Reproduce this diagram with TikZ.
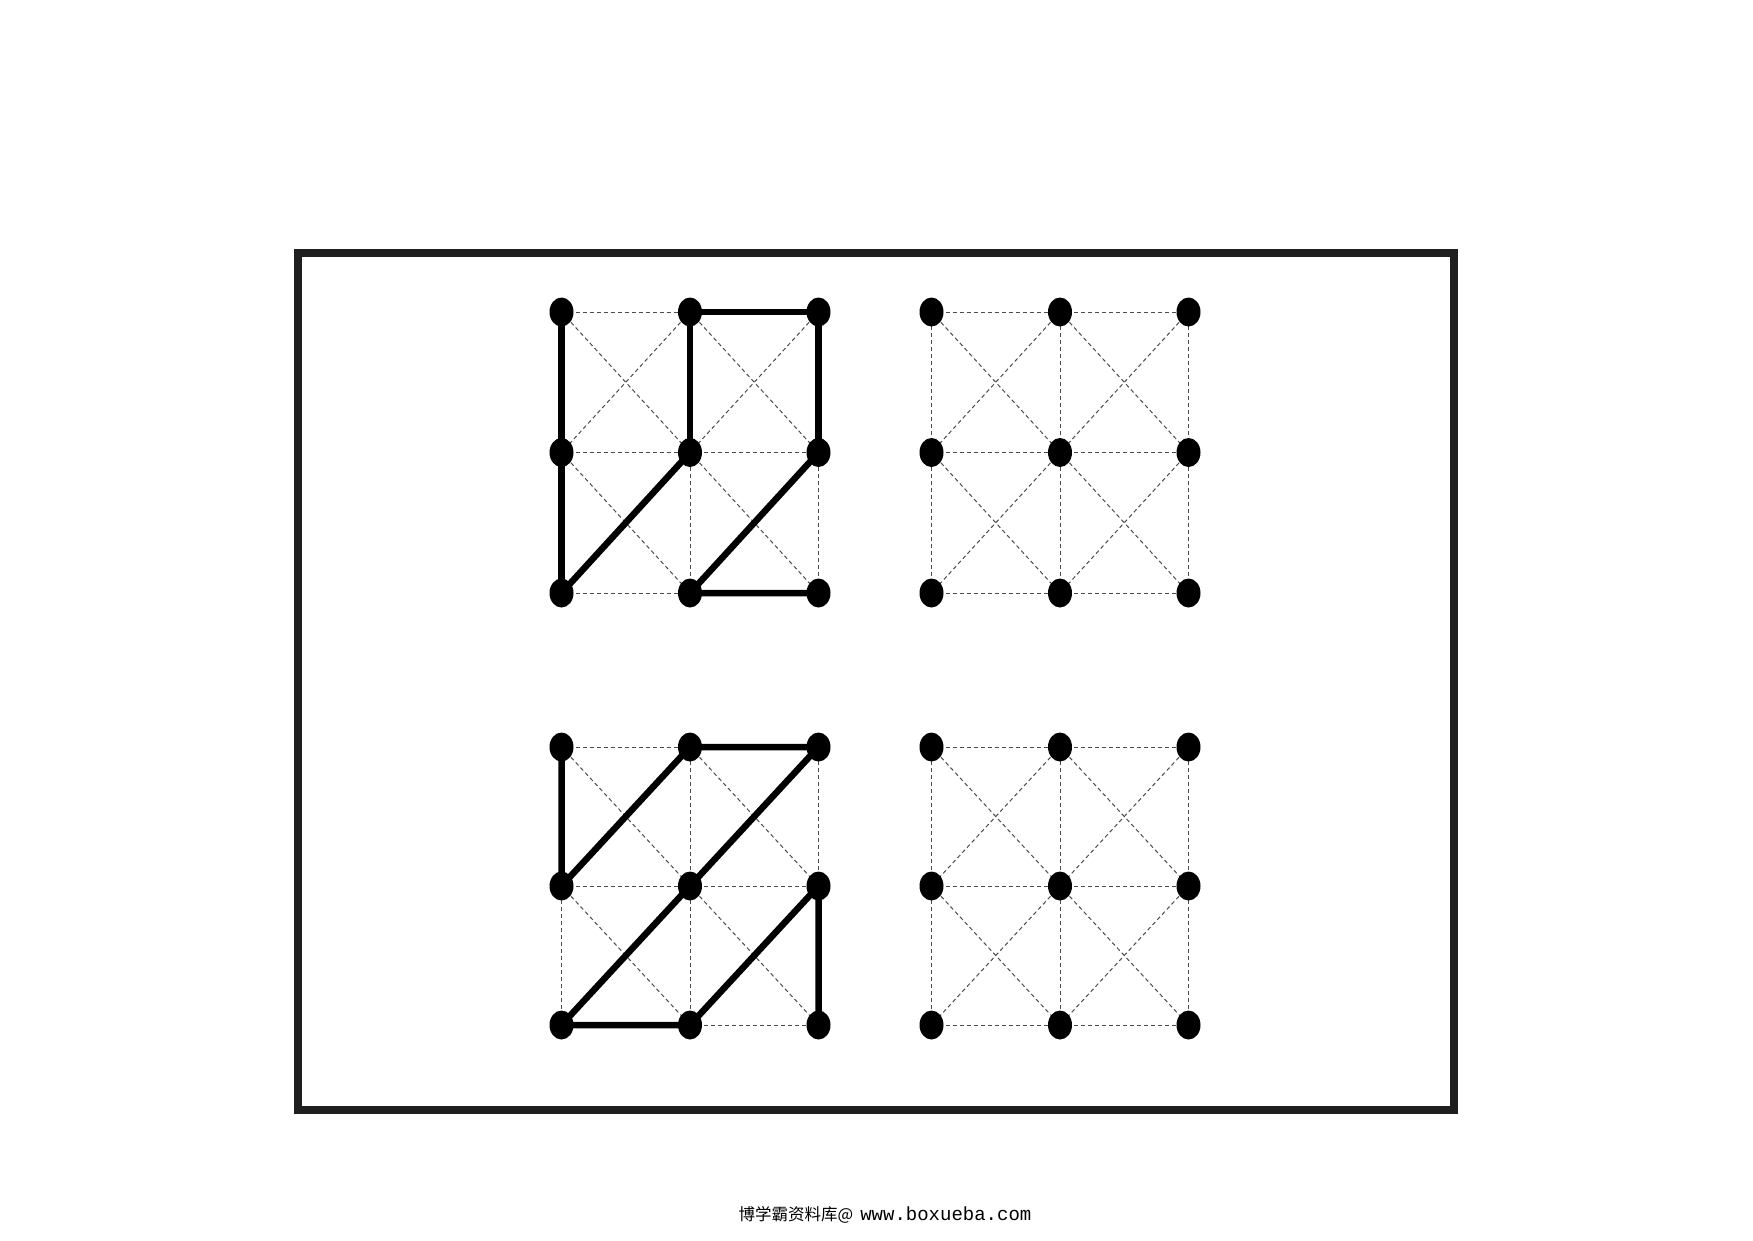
\documentclass[tikz,border=0pt]{standalone}
\usepackage{fontspec}
\newfontfamily\cjk{Noto Sans CJK SC}
\newfontfamily\urlfont{Liberation Mono}
\tikzset{
  gridline/.style={draw=black!70, line width=1pt, dash pattern=on 4pt off 3pt},
  thickline/.style={draw=black, line width=6.5pt, line cap=round, line join=round},
  dotnode/.style={ellipse, fill=black, minimum width=24pt, minimum height=29pt, inner sep=0pt},
  framebox/.style={draw=black!88, line width=7.5pt}
}
\usetikzlibrary{shapes.geometric}
\begin{document}
\begin{tikzpicture}[x=1pt,y=-1pt]
\useasboundingbox[fill=white] (0,0) rectangle (1753,1240);
% frame
\coordinate (ftl) at (298,253);
\coordinate (fbr) at (1454,1110);
\draw[framebox] (ftl) rectangle (fbr);
% grid coordinates
\foreach \g/\ox/\oy/\dy in {A/561.5/312/140.5, B/931.5/312/140.5, C/561.5/747/139, D/931.5/747/139}{
  \foreach \i in {0,1,2}{
    \foreach \j in {0,1,2}{
      \coordinate (\g\i\j) at ({\ox+\i*128.5},{\oy+\j*\dy});
    }
  }
}
% dashed grid lines
\foreach \g in {A,B,C,D}{
  \foreach \j in {0,1,2}{
    \draw[gridline] (\g0\j) -- (\g1\j);
    \draw[gridline] (\g1\j) -- (\g2\j);
  }
  \foreach \i in {0,1,2}{
    \draw[gridline] (\g\i0) -- (\g\i1);
    \draw[gridline] (\g\i1) -- (\g\i2);
  }
  \foreach \i/\ii in {0/1,1/2}{
    \foreach \j/\jj in {0/1,1/2}{
      \draw[gridline] (\g\i\j) -- (\g\ii\jj);
      \draw[gridline] (\g\ii\j) -- (\g\i\jj);
    }
  }
}
% thick solutions
\draw[thickline] (A00) -- (A02);
\draw[thickline] (A11) -- (A10) -- (A20) -- (A21);
\draw[thickline] (A11) -- (A02);
\draw[thickline] (A21) -- (A12) -- (A22);
\draw[thickline] (C00) -- (C01) -- (C10) -- (C20) -- (C02) -- (C12) -- (C21) -- (C22);
% dots
\foreach \g in {A,B,C,D}{
  \foreach \i in {0,1,2}{
    \foreach \j in {0,1,2}{
      \node[dotnode] (dot\g\i\j) at (\g\i\j) {};
    }
  }
}
% footer
\node[inner sep=0pt] (footer) at (885,1215) {\fontsize{16.5pt}{18pt}\cjk 博学霸资料库@\hspace{7pt}\urlfont\fontsize{19pt}{20pt}\selectfont www.boxueba.com};
\end{tikzpicture}
\end{document}
